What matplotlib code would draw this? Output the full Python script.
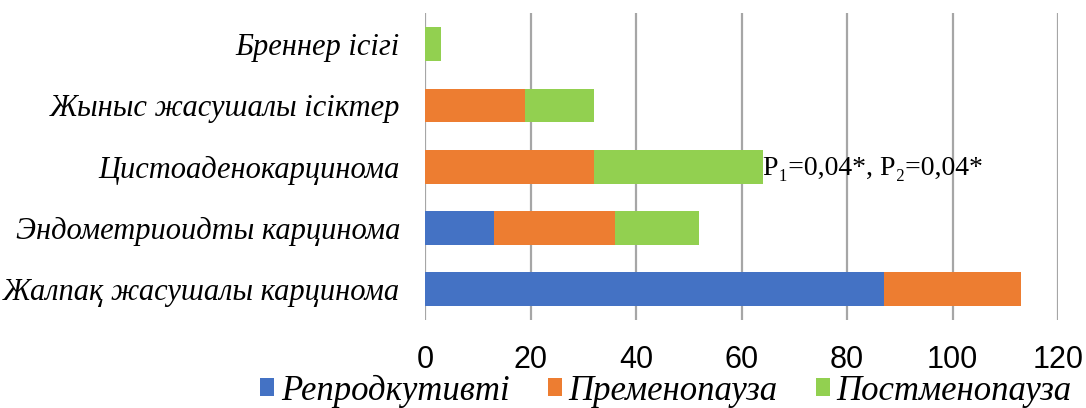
import matplotlib.pyplot as plt
import numpy as np

# data, bottom to top as in the chart
categories = ['Жалпақ жасушалы карцинома', 'Эндометриоидты карцинома',
              'Цистоаденокарцинома', 'Жыныс жасушалы ісіктер', 'Бреннер ісігі']
reproductive = [87, 13, 0, 0, 0]
premenopause = [26, 23, 32, 19, 0]
postmenopause = [0, 16, 32, 13, 3]
series_names = ['Репродкутивті', 'Пременопауза', 'Постменопауза']
colors = ['#4472C4', '#ED7D31', '#92D050']
xticks = [0, 20, 40, 60, 80, 100, 120]

serif = ['Liberation Serif', 'DejaVu Serif']

fig = plt.figure(figsize=(10.86, 4.08), dpi=100)
ax = fig.add_axes([425 / 1086, 88 / 408, 633 / 1086, 306.6 / 408])

y = np.arange(len(categories))
left = np.zeros(len(categories))
handles = []
for vals, name, col in zip([reproductive, premenopause, postmenopause], series_names, colors):
    b = ax.barh(y, vals, left=left, height=0.55, color=col, label=name, zorder=3)
    handles.append(b)
    left += np.array(vals)

ax.set_xlim(0, 120)
ax.set_ylim(-0.5, len(categories) - 0.5)
ax.set_xticks(xticks)
ax.set_yticks(y)
ax.set_yticklabels(categories, family=serif, style='italic', fontsize=22)
ax.set_xticklabels([str(t) for t in xticks], family=['Liberation Sans', 'DejaVu Sans'],
                   fontsize=22)
ax.tick_params(axis='y', length=0, pad=18)
ax.tick_params(axis='x', length=0, pad=18)
ax.grid(axis='x', color='#a6a6a6', linewidth=1.6, zorder=0)
for s in ax.spines.values():
    s.set_visible(False)

# p-value note next to the cystadenocarcinoma bar
ax.text(64, 1.97, 'P₁=0,04*, P₂=0,04*', family=serif,
        fontsize=20, va='center', ha='left', zorder=4)

fig.legend(handles=handles, labels=series_names, loc='center',
           bbox_to_anchor=(666 / 1086, 1 - 391 / 408),
           ncol=3, frameon=False, handlelength=0.4, handleheight=0.4, handletextpad=0.2,
           columnspacing=1.1, borderpad=0, borderaxespad=0,
           prop={'family': serif, 'style': 'italic', 'size': 25})

fig.savefig('out.png', dpi=100)
